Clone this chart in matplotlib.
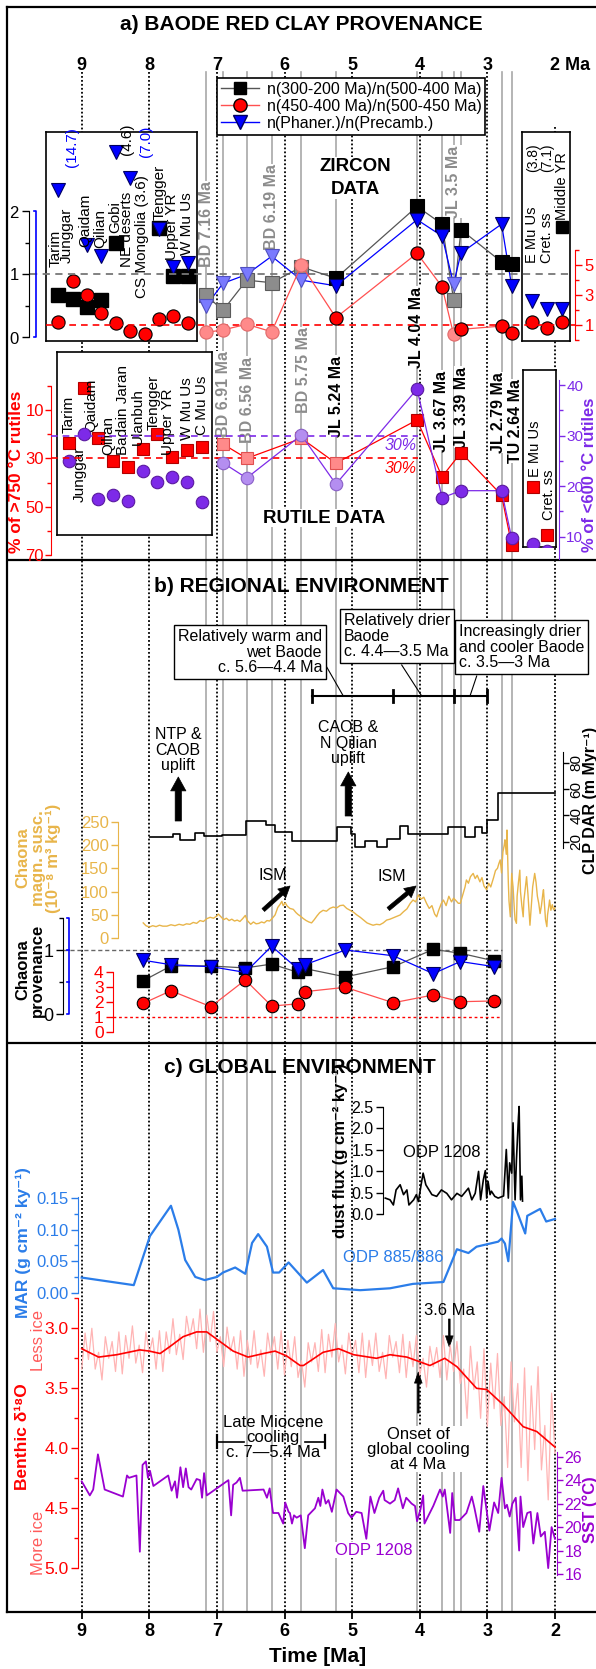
import numpy as np
import matplotlib.pyplot as plt
from matplotlib.lines import Line2D
from matplotlib.transforms import blended_transform_factory

plt.rcParams['font.family'] = ['Liberation Sans', 'DejaVu Sans']

# ------------------------------------------------------------------ data
# a) Baode red clay - zircon ratios of the samples
zr_age = [7.16, 6.91, 6.56, 6.19, 5.75, 5.24, 4.04, 3.67, 3.50, 3.39, 2.79, 2.64]
zr_young = [0.67, 0.43, 0.91, 0.87, 1.12, 0.94, 2.08, 1.80, 0.60, 1.71, 1.20, 1.16]
zr_cal = [0.51, 0.67, 1.05, 0.55, 5.00, 1.49, 5.78, 3.55, 0.38, 0.71, 0.93, 0.49]
zr_phan = [0.50, 0.86, 1.00, 1.29, 0.91, 0.82, 1.87, 1.61, 0.85, 1.34, 1.80, 0.81]
zr_pale = [1, 1, 1, 1, 1, 0, 0, 0, 1, 0, 0, 0]
zr_tag = ['BD 7.16 Ma', 'BD 6.19 Ma', 'JL 3.5 Ma']
zr_tag_age = [7.16, 6.19, 3.50]

# potential source areas, zircon
src_zr = ['Tarim', 'Junggar', 'Qaidam', 'Qilian', 'Gobi', 'NE deserts',
          'CS Mongolia (3.6)', 'Tengger', 'Upper YR', 'W Mu Us']
src_zr_young = [0.67, 0.61, 0.49, 0.59, 1.50, np.nan, np.nan, 1.74, 0.97, 0.97]
src_zr_phan = [2.34, np.nan, 1.47, 1.29, 2.95, 2.53, np.nan, 1.72, 1.12, 1.19]
src_zr_cal = [1.18, 3.93, 3.00, 1.82, 1.16, 0.62, 0.38, 1.40, 1.60, 1.15]
src2_zr = ['E Mu Us', 'Cret. ss', 'Middle YR']
src2_zr_young = [np.nan, np.nan, 1.76]
src2_zr_phan = [0.58, 0.45, 0.45]
src2_zr_cal = [1.22, 0.78, 1.18]

# rutile
ru_age = [6.91, 6.56, 5.75, 5.24, 4.04, 3.67, 3.39, 2.79, 2.64]
ru_hot = [24.1, 30.0, 21.7, 32.0, 14.1, 37.6, 27.6, 45.2, 65.9]
ru_cold = [24.6, 21.6, 30.1, 20.4, 39.2, 17.7, 19.1, 19.1, 9.7]
ru_pale = [1, 1, 1, 1, 0, 0, 0, 0, 0]
ru_tag = ['BD 6.91 Ma', 'BD 6.56 Ma', 'BD 5.75 Ma', 'JL 5.24 Ma', 'JL 4.04 Ma',
          'JL 3.67 Ma', 'JL 3.39 Ma', 'JL 2.79 Ma', 'TU 2.64 Ma']
src_ru = ['Tarim', 'Junggar', 'Qaidam', 'Qilian', 'Badain Jaran', 'Ulanbuh',
          'Tengger', 'Upper YR', 'W Mu Us', 'C Mu Us']
src_ru_hot = [23.5, 1.0, 21.7, 31.0, 33.4, 26.3, 20.0, 29.3, 26.5, 25.2]
src_ru_cold = [25.0, 30.3, 17.5, 18.2, 17.1, 22.9, 20.9, 21.8, 20.8, 16.9]
src2_ru = ['E Mu Us', 'Cret. ss']
src2_ru_hot = [41.7, 61.7]
src2_ru_cold = [8.5, 7.2]

# b) Chaona provenance
ch_age = [8.09, 7.68, 7.09, 6.58, 6.19, 5.80, 5.70, 5.10, 4.39, 3.80, 3.40, 2.90]
ch_young = [0.52, 0.75, 0.75, 0.72, 0.78, 0.65, 0.71, 0.58, 0.74, 1.01, 0.95, 0.83]
ch_phan = [0.84, 0.77, 0.74, 0.65, 1.06, 0.70, 0.77, 1.00, 0.91, 0.63, 0.82, 0.74]
ch_cal = [1.93, 2.77, 1.71, 3.49, 1.75, 1.90, 2.71, 3.00, 1.97, 2.49, 2.04, 2.09]

# Chaona magnetic susceptibility
ms_age = [8.09, 8.05, 8.00, 7.95, 7.90, 7.85, 7.80, 7.74, 7.68, 7.62, 7.56, 7.50, 7.45,
          7.40, 7.35, 7.30, 7.25, 7.20, 7.15, 7.10, 7.05, 7.00, 6.98, 6.94, 6.90, 6.86,
          6.82, 6.78, 6.74, 6.70, 6.66, 6.62, 6.58, 6.55, 6.50, 6.46, 6.42, 6.38, 6.34,
          6.30, 6.26, 6.22, 6.18, 6.14, 6.10, 6.07, 6.04, 6.02, 5.99, 5.96, 5.92, 5.87,
          5.83, 5.80, 5.76, 5.72, 5.68, 5.64, 5.60, 5.56, 5.52, 5.48, 5.43, 5.38, 5.33,
          5.28, 5.23, 5.18, 5.13, 5.08, 5.03, 4.98, 4.93, 4.88, 4.83, 4.78, 4.73, 4.69,
          4.64, 4.59, 4.54, 4.49, 4.44, 4.39, 4.34, 4.29, 4.24, 4.19, 4.14, 4.10, 4.06,
          4.02, 3.98, 3.94, 3.90, 3.86, 3.82, 3.78, 3.75, 3.72, 3.68, 3.65, 3.61, 3.57,
          3.53, 3.50, 3.46, 3.43, 3.40, 3.36, 3.33, 3.31, 3.28, 3.25, 3.21, 3.18, 3.15,
          3.11, 3.08, 3.05, 3.01, 2.98, 2.95, 2.91, 2.88, 2.85, 2.83, 2.81, 2.79, 2.77,
          2.75, 2.74, 2.72, 2.71, 2.69, 2.68, 2.66, 2.65, 2.64, 2.62, 2.60, 2.59, 2.57,
          2.56, 2.54, 2.52, 2.51, 2.49, 2.47, 2.46, 2.44, 2.42, 2.40, 2.38, 2.37, 2.35,
          2.33, 2.30, 2.28, 2.26, 2.24, 2.22, 2.20, 2.18, 2.17, 2.15, 2.14, 2.12, 2.11,
          2.09, 2.08, 2.06, 2.04, 2.02, 2.00]
ms_val = [33, 27, 24, 27, 25, 28, 26, 26, 29, 27, 30, 28, 31,
          30, 34, 32, 38, 36, 42, 45, 43, 48, 52, 46, 40, 43,
          38, 41, 37, 39, 36, 42, 49, 38, 30, 35, 31, 32, 35,
          33, 38, 37, 43, 50, 66, 72, 79, 70, 76, 69, 64, 62,
          55, 51, 47, 42, 38, 35, 33, 40, 48, 55, 60, 58, 64,
          67, 65, 70, 71, 64, 60, 56, 50, 45, 39, 33, 30, 28,
          30, 29, 33, 39, 41, 44, 47, 50, 57, 63, 75, 82, 78,
          93, 84, 88, 75, 64, 70, 52, 46, 60, 75, 82, 70, 90,
          78, 86, 80, 75, 75, 95, 110, 125, 118, 132, 139, 128, 135,
          121, 130, 112, 104, 118, 110, 129, 145, 150, 160, 168, 140, 185,
          200, 211, 180, 232, 120, 80, 46, 95, 139, 110, 60, 40, 32,
          90, 120, 146, 100, 70, 46, 80, 105, 132, 95, 50, 28, 70,
          110, 139, 120, 90, 75, 53, 70, 95, 104, 60, 40, 25, 50,
          70, 82, 60, 72, 61, 65]

# Chinese Loess Plateau dust accumulation rate (step record)
clp_age = [7.99, 7.65, 7.55, 7.33, 7.19, 6.93, 6.57, 6.28, 6.14, 5.89, 5.23, 5.01,
           4.96, 4.81, 4.63, 4.49, 4.29, 4.17, 3.58, 3.33, 3.18, 3.08, 3.01, 2.85, 2.00]
clp_dar = [23.3, 25.8, 21.3, 26.4, 24.3, 24.8, 35.9, 32.7, 27.6, 20.4, 31.4, 25.8,
           16.2, 20.5, 16.0, 22.0, 32.1, 25.8, 31.4, 23.8, 31.4, 26.4, 36.5, 56.8, 56.8]

baode_stages = [5.6, 4.4, 3.5, 3.0]

# c) ODP 885/886 MAR
mar_age = [9.00, 8.23, 7.99, 7.68, 7.57, 7.47, 7.32, 7.18, 7.00, 6.91, 6.73, 6.58, 6.48,
           6.39, 6.26, 6.17, 6.08, 5.94, 5.67, 5.43, 5.28, 4.88, 4.44, 4.10, 3.65, 3.45,
           3.28, 3.16, 2.84, 2.79, 2.74, 2.69, 2.62, 2.57, 2.44, 2.41, 2.22, 2.13, 2.00]
mar_val = [0.024, 0.012, 0.090, 0.138, 0.100, 0.052, 0.025, 0.020, 0.025, 0.032, 0.040,
           0.030, 0.079, 0.093, 0.073, 0.032, 0.032, 0.048, 0.016, 0.036, 0.007, 0.004,
           0.007, 0.014, 0.017, 0.069, 0.063, 0.073, 0.081, 0.086, 0.078, 0.050, 0.144,
           0.131, 0.094, 0.122, 0.133, 0.113, 0.117]

# ODP 1208 dust flux
dust_age = [4.51, 4.44, 4.39, 4.35, 4.29, 4.24, 4.19, 4.16, 4.09, 4.05, 4.02, 3.98, 3.95,
            3.91, 3.82, 3.75, 3.68, 3.60, 3.53, 3.45, 3.38, 3.28, 3.23, 3.18, 3.13, 3.10,
            3.06, 3.03, 3.01, 2.99, 2.96, 2.94, 2.89, 2.84, 2.76, 2.72, 2.69, 2.67, 2.64,
            2.62, 2.59, 2.57, 2.54, 2.53, 2.51, 2.49, 2.48]
dust_val = [0.37, 0.33, 0.21, 0.56, 0.68, 0.45, 0.56, 0.21, 0.33, 0.45, 0.29, 0.68, 0.95,
            0.68, 0.45, 0.41, 0.56, 0.48, 0.33, 0.48, 0.41, 0.60, 0.33, 0.48, 0.99, 0.33,
            0.79, 1.01, 0.37, 0.76, 0.45, 0.53, 0.41, 0.37, 0.42, 1.50, 0.37, 1.19, 0.95,
            2.12, 0.33, 1.26, 2.25, 2.50, 0.33, 0.88, 0.30]

# benthic d18O stack: raw (0.05 Myr) and smoothed
d18_age = [9.00, 8.95, 8.90, 8.85, 8.80, 8.75, 8.70, 8.65, 8.60, 8.55, 8.50, 8.45, 8.40,
           8.35, 8.30, 8.25, 8.20, 8.15, 8.10, 8.05, 8.00, 7.95, 7.90, 7.85, 7.80, 7.75,
           7.70, 7.65, 7.60, 7.55, 7.50, 7.45, 7.40, 7.35, 7.30, 7.25, 7.20, 7.15, 7.10,
           7.05, 7.00, 6.95, 6.90, 6.85, 6.80, 6.75, 6.70, 6.65, 6.60, 6.55, 6.50, 6.45,
           6.40, 6.35, 6.30, 6.25, 6.20, 6.15, 6.10, 6.05, 6.00, 5.95, 5.90, 5.85, 5.80,
           5.75, 5.70, 5.65, 5.60, 5.55, 5.50, 5.45, 5.40, 5.35, 5.30, 5.25, 5.20, 5.15,
           5.10, 5.05, 5.00, 4.95, 4.90, 4.85, 4.80, 4.75, 4.70, 4.65, 4.60, 4.55, 4.50,
           4.45, 4.40, 4.35, 4.30, 4.25, 4.20, 4.15, 4.10, 4.05, 4.00, 3.95, 3.90, 3.85,
           3.80, 3.75, 3.70, 3.65, 3.60, 3.55, 3.50, 3.45, 3.40, 3.35, 3.30, 3.25, 3.20,
           3.15, 3.10, 3.05, 3.00, 2.95, 2.90, 2.85, 2.80, 2.75, 2.70, 2.65, 2.60, 2.55,
           2.50, 2.45, 2.40, 2.35, 2.30, 2.25, 2.20, 2.15, 2.10, 2.05, 2.00]
d18_raw = [3.34, 3.04, 3.26, 3.00, 3.34, 3.20, 3.43, 3.07, 3.25, 3.11, 3.36, 3.03, 3.38,
           3.06, 3.25, 2.98, 3.29, 3.14, 3.37, 3.03, 3.21, 3.08, 3.34, 3.02, 3.36, 3.03,
           3.21, 2.92, 3.22, 3.05, 3.26, 2.90, 3.07, 2.92, 3.17, 2.84, 3.20, 2.89, 3.11,
           2.86, 3.20, 3.07, 3.32, 2.99, 3.19, 3.07, 3.34, 3.02, 3.40, 3.10, 3.30, 3.02,
           3.33, 3.18, 3.40, 3.04, 3.22, 3.07, 3.34, 3.02, 3.39, 3.10, 3.32, 3.07, 3.41,
           3.27, 3.49, 3.12, 3.28, 3.12, 3.36, 3.01, 3.37, 3.05, 3.24, 2.96, 3.28, 3.14,
           3.38, 3.04, 3.23, 3.10, 3.37, 3.04, 3.41, 3.10, 3.31, 3.04, 3.36, 3.20, 3.42,
           3.06, 3.24, 3.11, 3.37, 3.05, 3.41, 3.11, 3.32, 3.06, 3.39, 3.25, 3.49, 3.15,
           3.32, 3.16, 3.41, 3.06, 3.43, 3.14, 3.36, 3.11, 3.46, 3.34, 3.75, 3.15, 3.51,
           3.28, 3.75, 3.17, 3.82, 3.29, 3.67, 3.21, 3.81, 3.57, 4.16, 3.28, 3.78, 3.46,
           4.16, 3.33, 4.27, 3.48, 4.01, 3.32, 4.18, 3.81, 4.43, 3.54, 4.04]
d18s_age = [9.00, 8.75, 8.48, 8.14, 8.00, 7.84, 7.69, 7.50, 7.30, 7.15, 6.98, 6.76, 6.54,
            6.31, 6.14, 5.97, 5.77, 5.72, 5.43, 5.20, 4.98, 4.64, 4.44, 4.19, 3.85, 3.63,
            3.45, 3.16, 3.01, 2.76, 2.47, 2.27, 2.00]
d18s_val = [3.17, 3.24, 3.22, 3.18, 3.19, 3.21, 3.15, 3.07, 3.03, 3.03, 3.10, 3.19, 3.24,
            3.21, 3.19, 3.23, 3.31, 3.31, 3.20, 3.17, 3.22, 3.25, 3.22, 3.24, 3.31, 3.25,
            3.32, 3.50, 3.51, 3.64, 3.82, 3.86, 3.99]

# ODP 1208 SST
sst_age = [9.00, 8.88, 8.83, 8.76, 8.66, 8.39, 8.33, 8.30, 8.19, 8.14, 8.10, 8.05, 8.02,
           7.99, 7.94, 7.72, 7.67, 7.62, 7.59, 7.54, 7.50, 7.46, 7.42, 7.38, 7.30, 7.25,
           7.22, 7.19, 7.15, 6.83, 6.79, 6.76, 6.71, 6.66, 6.62, 6.31, 6.26, 6.22, 6.17,
           6.09, 6.02, 5.99, 5.94, 5.92, 5.89, 5.86, 5.82, 5.76, 5.70, 5.65, 5.55, 5.50,
           5.47, 5.44, 5.39, 5.35, 5.30, 5.23, 5.18, 5.13, 5.06, 5.01, 4.94, 4.86, 4.79,
           4.73, 4.67, 4.60, 4.54, 4.52, 4.44, 4.37, 4.32, 4.25, 4.20, 4.12, 4.07, 4.04,
           3.99, 3.95, 3.93, 3.80, 3.70, 3.66, 3.63, 3.55, 3.52, 3.48, 3.41, 3.31, 3.23,
           3.19, 3.12, 3.06, 2.97, 2.90, 2.84, 2.79, 2.74, 2.71, 2.67, 2.63, 2.58, 2.53,
           2.51, 2.47, 2.41, 2.36, 2.32, 2.26, 2.21, 2.15, 2.10, 2.05, 2.00]
sst_val = [23.9, 22.7, 23.2, 26.2, 23.2, 22.6, 24.4, 24.2, 24.4, 17.9, 25.3, 25.6, 24.2,
           24.8, 23.5, 24.4, 23.1, 23.9, 22.5, 25.1, 23.4, 25.0, 23.4, 23.2, 24.1, 24.0,
           22.5, 24.6, 22.7, 24.0, 21.0, 23.6, 23.8, 24.2, 23.1, 23.2, 22.5, 23.3, 21.2,
           21.2, 20.3, 22.1, 21.3, 21.2, 20.3, 21.0, 20.8, 21.0, 18.2, 21.0, 21.6, 22.5,
           21.8, 23.2, 22.0, 22.3, 21.3, 23.2, 22.9, 22.6, 21.2, 20.8, 21.3, 21.2, 19.0,
           22.6, 21.2, 22.5, 23.1, 22.3, 22.0, 22.3, 23.3, 21.6, 22.5, 22.0, 21.8, 20.5,
           21.5, 22.7, 20.3, 21.8, 23.2, 22.6, 23.2, 19.5, 22.9, 20.6, 20.6, 21.2, 22.6,
           21.6, 19.6, 23.5, 19.7, 22.1, 21.2, 24.2, 21.6, 21.9, 20.9, 22.0, 22.5, 18.0,
           22.6, 20.0, 21.2, 21.3, 18.6, 21.2, 19.2, 19.6, 16.5, 20.0, 19.0]

late_miocene = [7.0, 5.4]

# ------------------------------------------------------------------ layout
W, H = 596, 1669
fig = plt.figure(figsize=(W / 100, H / 100), dpi=100)

X9, PX_MA = 81.7, 67.61            # pixel column of 9 Ma and pixels per Myr


def ma(px):
    return 9 - (px - X9) / PX_MA


LEFT, RIGHT, TOP, BOT = 7.3, 600, 7, 1612
XLIM = (ma(LEFT), ma(RIGHT))


def rect(x0, x1, y0, y1):
    return [x0 / W, 1 - y1 / H, (x1 - x0) / W, (y1 - y0) / H]


def span(v1, p1, v2, p2, a, b):
    k = (v2 - v1) / (p2 - p1)
    return v1 + (a - p1) * k, v1 + (b - p1) * k


bg = fig.add_axes(rect(LEFT, RIGHT, TOP, BOT))
bg.set_xlim(XLIM)
bg.set_ylim(BOT, TOP)
bg.set_zorder(0)
bg.spines['right'].set_visible(False)
for s in ['left', 'top', 'bottom']:
    bg.spines[s].set_linewidth(1.6)
bg.set_yticks([])
bg.set_xticks(range(9, 1, -1))
bg.tick_params(axis='x', length=5, width=1.3, labelsize=13, pad=3)
for t in bg.get_xticklabels():
    t.set_fontweight('bold')


def T(x, y, s, **kw):
    return bg.text(ma(x), y, s, **kw)


def layer(top, bot, v1, p1, v2, p2, z=3):
    ax = fig.add_axes(rect(LEFT, RIGHT, top, bot))
    ax.set_xlim(XLIM)
    ax.set_ylim(*span(v1, p1, v2, p2, bot, top))
    ax.patch.set_visible(False)
    for s in ax.spines.values():
        s.set_visible(False)
    ax.set_xticks([])
    ax.set_yticks([])
    ax.set_zorder(z)
    return ax


def yaxis(ax, side, xpx, lo, hi, color, major, minor=(), fmt=None, fs=12, rot=0, tl=5, pad=2):
    sp = ax.spines[side]
    sp.set_visible(True)
    sp.set_position(('data', ma(xpx)))
    sp.set_bounds(lo, hi)
    sp.set_color(color)
    if side == 'right':
        ax.yaxis.tick_right()
    else:
        ax.yaxis.tick_left()
    ax.set_yticks(major)
    ax.set_yticks(list(minor), minor=True)
    if fmt:
        ax.set_yticklabels([fmt % v for v in major])
    ax.tick_params(axis='y', which='both', colors=color, direction='out', labelsize=fs, pad=pad)
    ax.tick_params(axis='y', which='major', length=tl, width=1)
    ax.tick_params(axis='y', which='minor', length=3, width=1)
    if rot:
        for t in ax.get_yticklabels():
            t.set_rotation(rot)
            t.set_va('center')


def box(x0, x1, y0, y1, z=2, frame=True):
    ax = fig.add_axes(rect(x0, x1, y0, y1))
    ax.set_xticks([])
    ax.set_yticks([])
    ax.set_zorder(z)
    if frame:
        for s in ax.spines.values():
            s.set_linewidth(1.2)
    else:
        ax.patch.set_visible(False)
        for s in ax.spines.values():
            s.set_visible(False)
    return ax


def marks(ax, x, y, pale, mk, ms, dark, light, z=4):
    x = np.asarray(x)
    y = np.asarray(y)
    p = np.asarray(pale, bool)
    ax.plot(x[p], y[p], ls='none', marker=mk, ms=ms, mfc=light[0], mec=light[1], mew=0.8, zorder=z)
    ax.plot(x[~p], y[~p], ls='none', marker=mk, ms=ms, mfc=dark[0], mec=dark[1], mew=0.8, zorder=z)


GREYL = '#555555'
REDL = '#ff5050'
PURP = '#7d2ae8'
GOLD = '#e8b54a'
MARB = '#2b7de9'
SSTP = '#9a00d0'

# frame separators, time lines
bg.axhline(560, color='k', lw=1.6)
bg.axhline(1043, color='k', lw=1.6)
for a in range(9, 1, -1):
    bg.plot([a, a], [127 if a == 2 else 72, BOT], color='k', ls=(0, (1, 1.2)), lw=1.3, zorder=1)
for a in sorted(set(zr_age + ru_age)):
    bg.plot([a, a], [72, BOT], color='#a8a8a8', lw=1.2, zorder=0.5)

# top tick labels
for a in range(9, 2, -1):
    bg.text(a, 65, str(a), ha='center', va='center', fontsize=13, weight='bold')
T(550, 65, '2 Ma', ha='left', va='center', fontsize=13, weight='bold')

# panel titles
T(301, 24, 'a) BAODE RED CLAY PROVENANCE', ha='center', va='center', fontsize=15, weight='bold')
T(301, 586, 'b) REGIONAL ENVIRONMENT', ha='center', va='center', fontsize=15, weight='bold')
T(300, 1067, 'c) GLOBAL ENVIRONMENT', ha='center', va='center', fontsize=15, weight='bold')
T(318, 1656, 'Time [Ma]', ha='center', va='center', fontsize=15, weight='bold')

# ------------------------------------------------------------------ a) zircon
zA = layer(140, 345, 0, 337.5, 2, 211.5)
zR = layer(140, 345, 1, 325, 5, 265)
yaxis(zA, 'left', 28.5, 0, 2, 'k', [0, 1, 2], [0.5, 1.5])
zA.plot([ma(33.5), ma(36), ma(36), ma(33.5)], [2, 2, 0, 0], color='blue', lw=1.2, clip_on=False)
yaxis(zR, 'right', 575, 0, 6, 'red', [1, 3, 5], [0, 2, 4, 6])
zA.plot([ma(30), ma(572)], [1, 1], color='#777777', ls=(0, (4, 3)), lw=1.3, zorder=1)
zR.plot([ma(46), ma(575)], [1, 1], color='red', ls=(0, (4, 3)), lw=1.2, zorder=1)

zR.plot(zr_age, zr_cal, color=REDL, lw=0.9)
marks(zR, zr_age, zr_cal, zr_pale, 'o', 9.5, ('red', 'k'), ('#ff8a8a', '#e06a6a'))
zA.plot(zr_age, zr_young, color=GREYL, lw=0.9)
marks(zA, zr_age, zr_young, zr_pale, 's', 9.5, ('k', 'k'), ('#8c8c8c', '#5a5a5a'))
zA.plot(zr_age, zr_phan, color='blue', lw=0.9)
marks(zA, zr_age, zr_phan, zr_pale, 'v', 10.5, ('blue', '#000060'), ('#7a7aff', '#5050c0'), z=5)

leg_h = [Line2D([0], [0], color=GREYL, lw=1, marker='s', ms=9, mfc='k', mec='k'),
         Line2D([0], [0], color=REDL, lw=1, marker='o', ms=9.5, mfc='red', mec='k'),
         Line2D([0], [0], color='blue', lw=1, marker='v', ms=10, mfc='blue', mec='#000060')]
leg = zA.legend(leg_h, ['n(300-200 Ma)/n(500-400 Ma)', 'n(450-400 Ma)/n(500-450 Ma)',
                        'n(Phaner.)/n(Precamb.)'],
                loc='upper left', bbox_to_anchor=(217 / W, 1 - 78 / H),
                bbox_transform=fig.transFigure, borderaxespad=0, fancybox=False,
                edgecolor='k', framealpha=1, fontsize=11.5, borderpad=0.25,
                labelspacing=0.12, handlelength=2.4, handletextpad=0.45)
leg.get_frame().set_linewidth(1.2)

for s, a, yb in zip(zr_tag, zr_tag_age, [267, 250, 218]):
    bg.text(a, yb, s, rotation=90, ha='center', va='bottom', fontsize=11.5, weight='bold',
            color='#8c8c8c', bbox=dict(fc='w', ec='none', pad=0.3), zorder=4)
T(355, 178, 'ZIRCON\nDATA', ha='center', va='center', fontsize=13.5, weight='bold',
  linespacing=1.5, bbox=dict(fc='w', ec='none', pad=0.5), zorder=4)

# source inset (zircon, left)
iz = box(45.7, 196.7, 131.7, 341)
iz.set_xlim(*span(0, 58.3, 9, 187.7, 45.7, 196.7))
iz.set_ylim(*span(0, 337.5, 2, 211.5, 341, 131.7))
izr = box(45.7, 196.7, 131.7, 341, z=2.1, frame=False)
izr.set_xlim(iz.get_xlim())
izr.set_ylim(*span(1, 325, 5, 265, 341, 131.7))
idx = np.arange(len(src_zr))
izr.plot(idx, src_zr_cal, ls='none', marker='o', ms=9.5, mfc='red', mec='k', mew=0.8)
iz.plot(idx, src_zr_young, ls='none', marker='s', ms=9.5, mfc='k', mec='k')
iz.plot(idx, src_zr_phan, ls='none', marker='v', ms=10.5, mfc='blue', mec='#000060', mew=0.8)
tz = blended_transform_factory(iz.transData, bg.transData)
for i, (s, yb, dx) in enumerate(zip(src_zr, [267, 263, 247, 248, 233, 267, 298, 220, 260, 255],
                                    [-0.16, -0.38, -0.15, -0.1, -0.06, -0.24, -0.2, 0.02, -0.11, -0.07])):
    iz.text(i + dx, yb, s, transform=tz, rotation=90, ha='center', va='bottom', fontsize=11)
iz.text(0.95, 167, '(14.7)', transform=tz, rotation=90, ha='center', va='bottom', fontsize=11, color='blue')
iz.text(4.76, 155, '(4.6)', transform=tz, rotation=90, ha='center', va='bottom', fontsize=11)
iz.text(6.1, 157, '(7.0)', transform=tz, rotation=90, ha='center', va='bottom', fontsize=11, color='blue')

# source inset (zircon, right)
iz2 = box(521.7, 570, 131.7, 341)
iz2.set_xlim(*span(0, 531.7, 2, 561.7, 521.7, 570))
iz2.set_ylim(iz.get_ylim())
iz2r = box(521.7, 570, 131.7, 341, z=2.1, frame=False)
iz2r.set_xlim(iz2.get_xlim())
iz2r.set_ylim(izr.get_ylim())
i2 = np.arange(len(src2_zr))
iz2r.plot(i2, src2_zr_cal, ls='none', marker='o', ms=9.5, mfc='red', mec='k', mew=0.8)
iz2.plot(i2, src2_zr_young, ls='none', marker='s', ms=9, mfc='k', mec='k')
iz2.plot(i2, src2_zr_phan, ls='none', marker='v', ms=10.5, mfc='blue', mec='#000060', mew=0.8)
tz2 = blended_transform_factory(iz2.transData, bg.transData)
for i, (s, yb) in enumerate(zip(src2_zr, [263, 263, 220])):
    iz2.text(i + 0.05, yb, s, transform=tz2, rotation=90, ha='center', va='bottom', fontsize=10.5)
iz2.text(0.1, 172, '(3.8)', transform=tz2, rotation=90, ha='center', va='bottom', fontsize=10)
iz2.text(1.0, 172, '(7.1)', transform=tz2, rotation=90, ha='center', va='bottom', fontsize=10)

# ------------------------------------------------------------------ a) rutile
rR = layer(340, 560, 0, 385.9, 70, 555)
rP = layer(340, 560, 40, 385, 10, 536.7)
yaxis(rR, 'left', 50.7, 0, 70, 'red', [10, 30, 50, 70], [0, 20, 40, 60], fs=12, tl=4, pad=1)
yaxis(rP, 'right', 558.5, 5.5, 41, PURP, [10, 20, 30, 40], [15, 25, 35], fs=11, tl=4, pad=1.5)
rR.plot([ma(51), ma(418)], [30, 30], color='red', ls=(0, (4, 3)), lw=1.2, zorder=1)
rP.plot([ma(51), ma(418)], [30, 30], color=PURP, ls=(0, (4, 3)), lw=1.2, zorder=1)
T(401, 468, '30%', ha='center', va='center', fontsize=11.5, style='italic', color='red')
T(401, 445, '30%', ha='center', va='center', fontsize=11.5, style='italic', color=PURP)
rR.plot(ru_age, ru_hot, color='red', lw=0.9)
marks(rR, ru_age, ru_hot, ru_pale, 's', 8.5, ('red', '#b00000'), ('#ff8a8a', '#e05050'))
rP.plot(ru_age, ru_cold, color=PURP, lw=0.9)
marks(rP, ru_age, ru_cold, ru_pale, 'o', 9, (PURP, '#5a1aa0'), ('#b48ef0', '#8a60c8'))

T(16.5, 472, '% of >750 °C rutiles', rotation=90, ha='center', va='center', fontsize=12.5,
  weight='bold', color='red')
T(589.5, 475, '% of <600 °C rutiles', rotation=90, ha='center', va='center', fontsize=12,
  weight='bold', color=PURP)
T(324, 518, 'RUTILE DATA', ha='center', va='center', fontsize=13.5, weight='bold',
  bbox=dict(fc='w', ec='none', pad=0.5), zorder=4)
ru_tag_x = [223, 247, 303, 336.7, 416.7, 441, 461.7, 498, 515.5]
for s, x, yb in zip(ru_tag, ru_tag_x, [437, 443, 413, 437, 368, 452, 448, 453, 463]):
    T(x, yb, s, rotation=90, ha='center', va='bottom', fontsize=11.5, weight='bold',
      color='#8c8c8c' if s.startswith('BD') else 'k',
      bbox=dict(fc='w', ec='none', pad=0.3), zorder=4)

# source inset (rutile, left)
ir = box(57.3, 212.3, 351.7, 535)
ir.set_xlim(*span(0, 69, 9, 201.7, 57.3, 212.3))
ir.set_ylim(*span(0, 385.9, 70, 555, 535, 351.7))
irp = box(57.3, 212.3, 351.7, 535, z=2.1, frame=False)
irp.set_xlim(ir.get_xlim())
irp.set_ylim(*span(40, 385, 10, 536.7, 535, 351.7))
ri = np.arange(len(src_ru))
ir.plot(ri, src_ru_hot, ls='none', marker='s', ms=8.5, mfc='red', mec='#b00000', mew=0.8)
irp.plot(ri, src_ru_cold, ls='none', marker='o', ms=9, mfc=PURP, mec='#5a1aa0', mew=0.8)
tr = blended_transform_factory(ir.transData, bg.transData)
for i, (s, yb, dx) in enumerate(zip(src_ru, [433, 502, 432, 455, 455, 445, 430, 455, 440, 435],
                                    [-0.05, -0.25, -0.46, -0.33, -0.32, -0.3, -0.28, -0.26, -0.01, 0])):
    ir.text(i + dx, yb, s, transform=tr, rotation=90, ha='center', va='bottom', fontsize=11)

# source inset (rutile, right)
ir2 = box(522.7, 556, 370, 547.3)
ir2.set_xlim(*span(0, 533.3, 1, 547.3, 522.7, 556))
ir2.set_ylim(*span(0, 385.9, 70, 555, 547.3, 370))
ir2p = box(522.7, 556, 370, 547.3, z=2.1, frame=False)
ir2p.set_xlim(ir2.get_xlim())
ir2p.set_ylim(*span(40, 385, 10, 536.7, 547.3, 370))
r2 = np.arange(len(src2_ru))
ir2.plot(r2, src2_ru_hot, ls='none', marker='s', ms=8.5, mfc='red', mec='#b00000', mew=0.8)
ir2p.plot(r2, src2_ru_cold, ls='none', marker='o', ms=9, mfc=PURP, mec='#5a1aa0', mew=0.8)
tr2 = blended_transform_factory(ir2.transData, bg.transData)
for i, (s, yb) in enumerate(zip(src2_ru, [477, 520])):
    ir2.text(i + 0.1, yb, s, transform=tr2, rotation=90, ha='center', va='bottom', fontsize=10.5)

# ------------------------------------------------------------------ b) regional
bx = dict(boxstyle='square,pad=0.25', fc='w', ec='k', lw=1)
T(322, 652, 'Relatively warm and\nwet Baode\nc. 5.6\u20144.4 Ma', ha='right', va='center',
  multialignment='right', fontsize=11.5, linespacing=1.05, bbox=bx, zorder=5)
T(344, 636, 'Relatively drier\nBaode\nc. 4.4\u20143.5 Ma', ha='left', va='center',
  fontsize=11.5, linespacing=1.05, bbox=bx, zorder=5)
T(459, 647, 'Increasingly drier\nand cooler Baode\nc. 3.5\u20143 Ma', ha='left', va='center',
  fontsize=11.5, linespacing=1.05, bbox=bx, zorder=5)
bg.plot([baode_stages[0], baode_stages[-1]], [696, 696], color='k', lw=1.5, zorder=3)
for a in baode_stages:
    bg.plot([a, a], [690, 702], color='k', lw=2, zorder=3)
for x0, y0, x1 in [(326.7, 667, 343.3), (401.7, 665, 421.7), (476.7, 676, 470)]:
    bg.plot([ma(x0), ma(x1)], [y0, 696], color='k', lw=0.8, zorder=3)

big = 'simple,tail_width=0.45,head_width=1.1,head_length=1.0'
small = 'simple,tail_width=0.28,head_width=0.85,head_length=0.8'
thin = 'simple,tail_width=0.12,head_width=0.55,head_length=0.8'


def arrow(x0, y0, x1, y1, style):
    bg.annotate('', xy=(ma(x1), y1), xytext=(ma(x0), y0),
                arrowprops=dict(arrowstyle=style, fc='k', ec='k', lw=0.5,
                                shrinkA=0, shrinkB=0), zorder=6)


T(178.3, 750, 'NTP &\nCAOB\nuplift', ha='center', va='center', fontsize=11.5, linespacing=1.05)
arrow(178.3, 821, 178.3, 777, big)
T(348.3, 743, 'CAOB &\nN Qilian\nuplift', ha='center', va='center', fontsize=11.5, linespacing=1.05)
arrow(348.3, 816, 348.3, 772, big)
T(273.3, 875, 'ISM', ha='center', va='center', fontsize=11.5)
arrow(263.3, 910, 290, 886, small)
T(391.7, 876, 'ISM', ha='center', va='center', fontsize=11.5)
arrow(388.3, 909, 416, 886, small)

cM = layer(560, 1043, 0, 938.3, 250, 821.6)
yaxis(cM, 'left', 118.3, 0, 250, GOLD, [0, 50, 100, 150, 200, 250], fs=12)
cM.plot(ms_age, ms_val, color=GOLD, lw=1.0)
T(38.5, 858, 'Chaona\nmagn. susc.\n(10\u207b\u2078 m\u00b3 kg\u207b\u00b9)', rotation=90, ha='center',
  va='center', multialignment='center', fontsize=12, weight='bold', color=GOLD, linespacing=1.0)

cL = layer(560, 1043, 20, 841.7, 80, 762.7)
yaxis(cL, 'right', 562.7, 15, 88, 'k', [20, 40, 60, 80], fs=11, rot=90, tl=4, pad=1)
cL.plot(clp_age, clp_dar, color='k', lw=1.2, drawstyle='steps-post')
T(590.5, 800, 'CLP DAR (m Myr\u207b\u00b9)', rotation=90, ha='center', va='center', fontsize=11.5,
  weight='bold')

cP = layer(560, 1043, 0, 1014, 1, 950)
cR = layer(560, 1043, 0, 1032.3, 4, 972.3)
yaxis(cP, 'left', 63.3, 0, 1.5, 'k', [0, 1], [0.5, 1.5], fs=13)
cP.plot([ma(66.8), ma(69.3), ma(69.3), ma(66.8)], [1.5, 1.5, 0, 0], color='blue', lw=1.2, clip_on=False)
cP.plot([ma(66.8), ma(69.3)], [1, 1], color='blue', lw=1.2)
cP.plot([ma(66.8), ma(69.3)], [0.5, 0.5], color='blue', lw=1.2)
yaxis(cR, 'left', 113.3, 0, 4, 'red', [0, 1, 2, 3, 4], fs=12.5)
cP.plot([ma(63.3), ma(502)], [1, 1], color='#666666', ls=(0, (3, 2)), lw=1.0, zorder=1)
cR.plot([ma(113.3), ma(500)], [1, 1], color='red', ls=(0, (2, 2)), lw=1.0, zorder=1)
cR.plot(ch_age, ch_cal, color=REDL, lw=0.9)
cR.plot(ch_age, ch_cal, ls='none', marker='o', ms=9, mfc='red', mec='k', mew=0.8)
cP.plot(ch_age, ch_young, color=GREYL, lw=0.9)
cP.plot(ch_age, ch_young, ls='none', marker='s', ms=8.5, mfc='k', mec='k')
cP.plot(ch_age, ch_phan, color='blue', lw=0.9)
cP.plot(ch_age, ch_phan, ls='none', marker='v', ms=10, mfc='blue', mec='#000060', mew=0.8)
T(30, 970, 'Chaona\nprovenance', rotation=90, ha='center', va='center', multialignment='center',
  fontsize=12, weight='bold', linespacing=1.0)

# ------------------------------------------------------------------ c) global
dF = layer(1043, 1612, 0, 1214, 2.5, 1106.5)
yaxis(dF, 'left', 383.3, 0, 2.5, 'k', [0, 0.5, 1.0, 1.5, 2.0, 2.5], fmt='%.1f', fs=11.5)
dF.plot(dust_age, dust_val, color='k', lw=1.2)
T(340, 1150, 'dust flux (g cm\u207b\u00b2 ky\u207b\u00b9)', rotation=90, ha='center', va='center',
  fontsize=12, weight='bold')
T(441.7, 1152, 'ODP 1208', ha='center', va='center', fontsize=12)

mA = layer(1043, 1612, 0, 1292.7, 0.15, 1198.2)
yaxis(mA, 'left', 78.3, 0, 0.152, MARB, [0, 0.05, 0.10, 0.15], [0.025, 0.075, 0.125],
      fmt='%.2f', fs=12)
mA.plot(mar_age, mar_val, color=MARB, lw=1.6)
T(23.3, 1243, 'MAR (g cm\u207b\u00b2 ky\u207b\u00b9)', rotation=90, ha='center', va='center',
  fontsize=12.5, weight='bold', color=MARB)
T(393.3, 1257, 'ODP 885/886', ha='center', va='center', fontsize=12, color=MARB)

bO = layer(1043, 1612, 3.0, 1328.3, 5.0, 1568.3)
yaxis(bO, 'left', 78.3, 2.75, 5.0, 'red', [3.0, 3.5, 4.0, 4.5, 5.0], [2.75, 3.25, 3.75, 4.25, 4.75],
      fmt='%.1f', fs=12.5)
bO.plot(d18_age, d18_raw, color='#ffb4b4', lw=0.9)
bO.plot(d18s_age, d18s_val, color='red', lw=1.2)
T(38.3, 1340, 'Less ice', rotation=90, ha='center', va='center', fontsize=12, color='#ff5a5a')
T(22.7, 1437, 'Benthic \u03b4\u00b9\u2078O', rotation=90, ha='center', va='center', fontsize=12.5,
  weight='bold', color='red')
T(38.3, 1543, 'More ice', rotation=90, ha='center', va='center', fontsize=12, color='#ff5a5a')

sS = layer(1043, 1612, 16, 1574, 26, 1456.7)
yaxis(sS, 'right', 556.7, 15.9, 26.4, SSTP, [16, 18, 20, 22, 24, 26], [17, 19, 21, 23, 25],
      fs=11.5, tl=4, pad=1.5)
sS.plot(sst_age, sst_val, color=SSTP, lw=1.3)
T(590.5, 1510, 'SST (\u00b0C)', rotation=90, ha='center', va='center', fontsize=12,
  weight='bold', color=SSTP)
T(373.3, 1550, 'ODP 1208', ha='center', va='center', fontsize=12, color=SSTP,
  bbox=dict(fc='w', ec='none', pad=0.5))

T(449.3, 1310, '3.6 Ma', ha='center', va='center', fontsize=12)
arrow(449.3, 1319, 449.3, 1347, thin)
T(418.3, 1449, 'Onset of\nglobal cooling\nat 4 Ma', ha='center', va='center', fontsize=12,
  linespacing=1.0, bbox=dict(fc='w', ec='none', pad=0.5), zorder=5)
arrow(418.3, 1413, 418.3, 1372, thin)
# bracket of the Late Miocene cooling, broken where the word "cooling" sits
bg.plot([late_miocene[0], ma(244)], [1441.7, 1441.7], color='k', lw=1.2, zorder=3)
bg.plot([ma(305), late_miocene[1]], [1441.7, 1441.7], color='k', lw=1.2, zorder=3)
for a in late_miocene:
    bg.plot([a, a], [1435, 1448], color='k', lw=1.6, zorder=3)
T(273, 1437, 'Late Miocene\ncooling\nc. 7\u20145.4 Ma', ha='center', va='center', fontsize=12,
  linespacing=1.0, zorder=5)

fig.savefig('out.png', dpi=100)
